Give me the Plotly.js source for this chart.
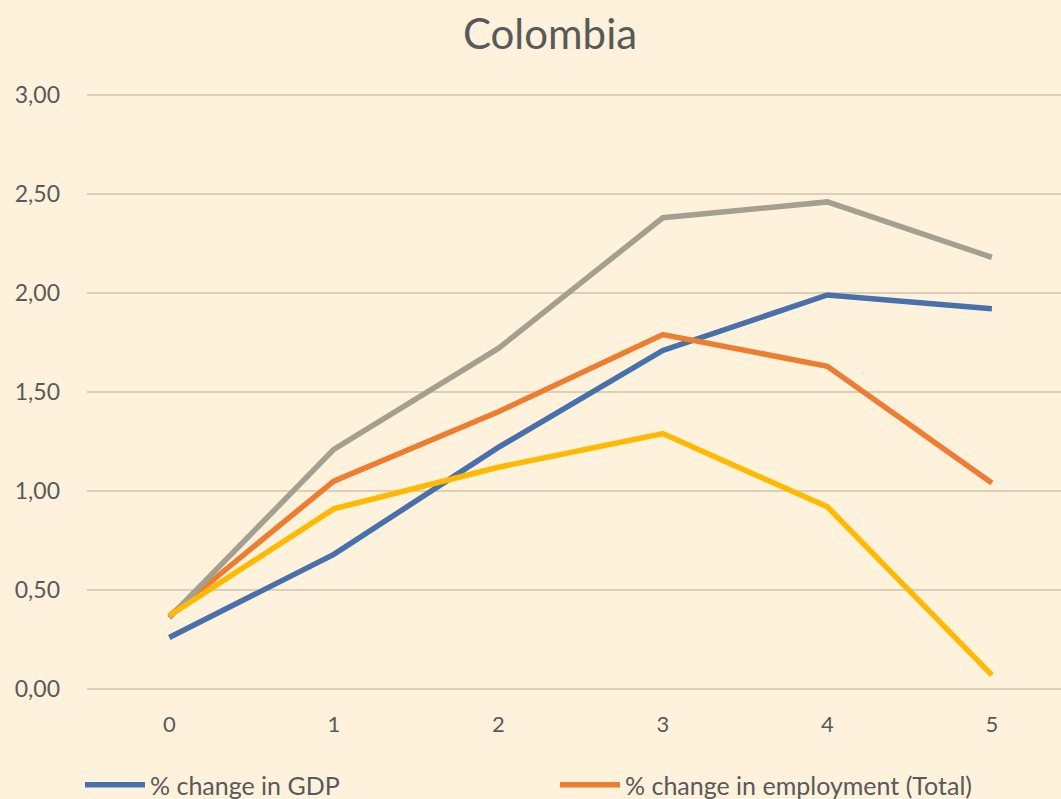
<!DOCTYPE html>
<html>
<head>
<meta charset="utf-8">
<script src="https://cdn.plot.ly/plotly-3.0.1.min.js"></script>
<style>html,body{margin:0;padding:0;background:#FEF2DD;}#chart{width:1061px;height:799px;}</style>
</head>
<body>
<div id="chart"></div>
<script>
const categories = [0, 1, 2, 3, 4, 5];
const gdp = [0.26, 0.68, 1.22, 1.71, 1.99, 1.92];
const employmentTotal = [0.37, 1.05, 1.40, 1.79, 1.63, 1.04];
const seriesGray = [0.36, 1.21, 1.72, 2.38, 2.46, 2.18];
const seriesYellow = [0.37, 0.91, 1.12, 1.29, 0.92, 0.07];
const yTicks = [0, 0.5, 1, 1.5, 2, 2.5, 3];

const mk = (y, name, color, show) => ({
  x: categories, y: y, name: name, type: 'scatter', mode: 'lines',
  line: {color: color, width: 5.5, shape: 'linear'}, showlegend: show
});

const data = [
  mk(gdp, '% change in GDP', '#4870AB', true),
  mk(employmentTotal, '% change in employment (Total)', '#ED7D31', true),
  mk(seriesGray, 'Series 3', '#A59F8F', false),
  mk(seriesYellow, 'Series 4', '#FFB900', false)
];

const layout = {
  width: 1061, height: 799,
  paper_bgcolor: '#FEF2DD', plot_bgcolor: '#FEF2DD',
  separators: ',.',
  font: {family: 'Lato, "Open Sans", sans-serif', color: '#595959', size: 22},
  margin: {l: 87, r: 0, t: 91, b: 106, pad: 0},
  title: {text: 'Colombia', font: {size: 42, color: '#595959'}, x: 550 / 1061, xanchor: 'center', xref: 'container',
    y: 1 - 34 / 799, yref: 'container', yanchor: 'middle'},
  xaxis: {
    type: 'linear', range: [-0.5, 5.42], tickvals: categories, ticktext: categories.map(String),
    showgrid: false, zeroline: false, showline: false, ticks: '', ticklabelstandoff: 16,
    tickfont: {size: 22, color: '#595959'}
  },
  yaxis: {
    range: [-0.02, 3.02], tickvals: yTicks, tickformat: '.2f', showgrid: true, gridcolor: '#DCCFB9', gridwidth: 2,
    zeroline: false, showline: false, ticks: '', ticklabelstandoff: 26,
    tickfont: {size: 23, color: '#595959'}
  },
  legend: {orientation: 'h', x: 80 / 1061, xref: 'container', xanchor: 'left', y: 14 / 799, yref: 'container', yanchor: 'middle',
    entrywidth: 400, entrywidthmode: 'pixels', itemwidth: 60, font: {size: 25, color: '#595959'}, bgcolor: 'rgba(0,0,0,0)'},
  showlegend: true
};

Plotly.newPlot('chart', data, layout, {displayModeBar: false, staticPlot: true});
</script>
</body>
</html>
